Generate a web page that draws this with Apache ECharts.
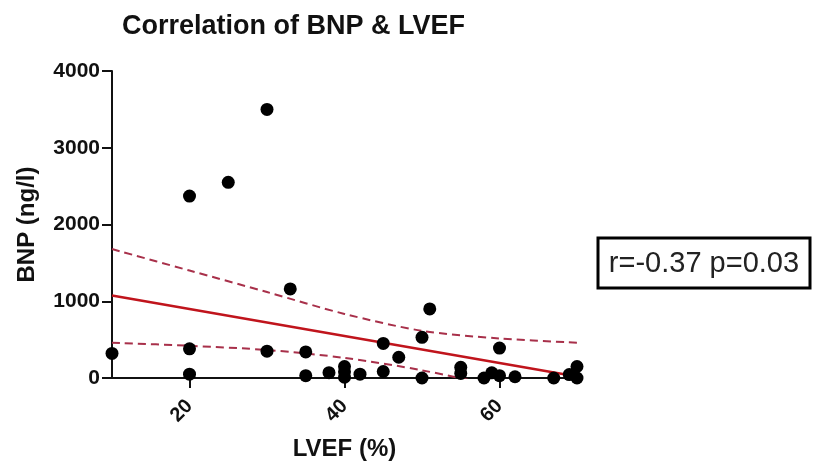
<!DOCTYPE html>
<html>
<head>
<meta charset="utf-8">
<script src="https://cdn.jsdelivr.net/npm/echarts@6/dist/echarts.min.js"></script>
<style>
html,body{margin:0;padding:0;background:#fff;}
#chart{width:813px;height:466px;}
</style>
</head>
<body>
<div id="chart"></div>
<script>
// Data
const lvef = [10, 20, 20, 20, 25, 30, 30, 33, 35, 35, 38, 40, 40, 40, 42, 45, 45, 47, 50, 50, 51, 55, 55, 58, 59, 60, 60, 62, 67, 69, 70, 70];
const bnp  = [320, 380, 50, 2370, 2550, 3500, 350, 1160, 340, 30, 70, 150, 80, 10, 50, 85, 450, 270, 530, 0, 900, 140, 60, 0, 68, 30, 390, 16, 0, 45, 150, 0];

// Regression line (end points) and 95% confidence band
const fitX = [10, 70];
const fitY = [1075, 20];
const bandX = [10, 20, 30, 40, 50, 60, 70];
const upperY = [1680, 1400, 1120, 835, 615, 515, 460];
const lowerY = [460, 420, 365, 262, 100, -120, -400];

const xTicks = [20, 40, 60];
const titleText = 'Correlation of BNP & LVEF';
const xName = 'LVEF (%)';
const yName = 'BNP (ng/l)';
const statText = 'r=-0.37 p=0.03';

const FONT = '"Liberation Sans", Arial, Helvetica, sans-serif';
const pts = lvef.map((x, i) => [x, bnp[i]]);
const fit = fitX.map((x, i) => [x, fitY[i]]);
const upper = bandX.map((x, i) => [x, upperY[i]]);
const lower = bandX.map((x, i) => [x, lowerY[i]]);

const chart = echarts.init(document.getElementById('chart'));
chart.setOption({
  animation: false,
  backgroundColor: '#fff',
  title: {
    text: titleText,
    left: 117,
    top: 8,
    textStyle: { fontFamily: FONT, fontWeight: 'bold', fontSize: 27, color: '#111' }
  },
  grid: { left: 112, right: 236, top: 71, bottom: 86, containLabel: false },
  xAxis: {
    type: 'value',
    min: 10,
    max: 70,
    name: xName,
    nameLocation: 'middle',
    nameGap: 59,
    nameTextStyle: { fontFamily: FONT, fontWeight: 'bold', fontSize: 24, color: '#111' },
    axisLine: { show: true, onZero: false, lineStyle: { color: '#111', width: 2 } },
    axisTick: { show: true, length: 10, customValues: xTicks, lineStyle: { color: '#111', width: 2 } },
    axisLabel: {
      customValues: xTicks, rotate: 45, margin: 25,
      fontFamily: FONT, fontWeight: 'bold', fontSize: 20, color: '#111'
    },
    splitLine: { show: false }
  },
  yAxis: {
    type: 'value',
    min: 0,
    max: 4000,
    interval: 1000,
    name: yName,
    nameLocation: 'middle',
    nameGap: 73,
    nameTextStyle: { fontFamily: FONT, fontWeight: 'bold', fontSize: 24, color: '#111' },
    axisLine: { show: true, lineStyle: { color: '#111', width: 2 } },
    axisTick: { show: true, length: 10, lineStyle: { color: '#111', width: 2 } },
    axisLabel: {
      margin: 12, formatter: v => String(v),
      fontFamily: FONT, fontWeight: 'bold', fontSize: 21, color: '#111'
    },
    splitLine: { show: false }
  },
  series: [
    {
      type: 'line', data: upper, symbol: 'none', smooth: 0.3, clip: true, z: 2,
      lineStyle: { color: '#a8304a', width: 2, type: [8, 5] }
    },
    {
      type: 'line', data: lower, symbol: 'none', smooth: 0.3, clip: true, z: 2,
      lineStyle: { color: '#a8304a', width: 2, type: [8, 5] }
    },
    {
      type: 'line', data: fit, symbol: 'none', clip: true, z: 3,
      lineStyle: { color: '#c0141c', width: 2.5 }
    },
    {
      type: 'scatter', data: pts, symbol: 'circle', symbolSize: 13, clip: false, z: 4,
      itemStyle: { color: '#000', opacity: 1 }
    }
  ],
  graphic: [
    {
      type: 'group',
      children: [
        { type: 'rect', shape: { x: 598, y: 238, width: 212, height: 50 },
          style: { fill: '#fff', stroke: '#000', lineWidth: 3 } },
        { type: 'text', x: 704, y: 264,
          style: { text: statText, fontFamily: FONT, fontSize: 29, fill: '#222', align: 'center', verticalAlign: 'middle' } }
      ]
    }
  ]
});
</script>
</body>
</html>
